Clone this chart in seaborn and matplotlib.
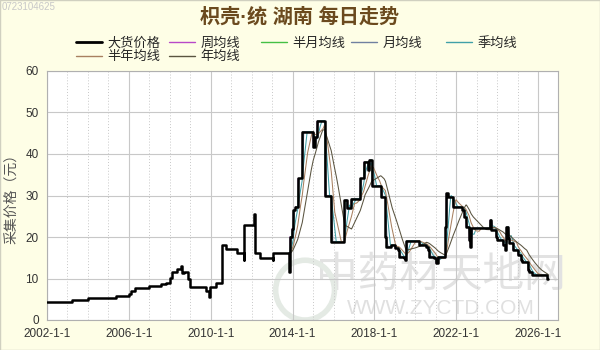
import numpy as np
import pandas as pd
import matplotlib
matplotlib.use("Agg")
import matplotlib.pyplot as plt
import matplotlib.dates as mdates
from matplotlib.lines import Line2D
from matplotlib.patches import Rectangle, Ellipse
import seaborn as sns

# ---------------- data ----------------
dates = [
    "2002-01-01", "2003-03-25", "2004-01-01", "2005-05-15", "2006-01-01", "2006-02-15",
    "2006-04-15", "2007-01-01", "2007-08-01", "2007-11-01", "2008-01-01", "2008-02-15",
    "2008-05-01", "2008-07-20", "2008-08-01", "2008-09-15", "2008-11-15", "2009-01-01",
    "2009-10-10", "2009-12-01", "2009-12-20", "2010-04-01", "2010-07-25", "2010-10-01",
    "2011-04-10", "2011-08-20", "2011-08-25", "2012-02-20", "2012-02-25", "2012-05-25",
    "2013-01-10", "2013-01-20", "2013-11-05", "2013-11-10", "2013-12-15", "2014-01-10",
    "2014-02-15", "2014-04-01", "2014-06-20", "2015-01-01", "2015-02-01", "2015-03-10",
    "2015-07-25", "2015-11-20", "2016-07-15", "2016-08-20", "2016-11-10", "2017-04-20",
    "2017-06-20", "2017-09-01", "2017-10-01", "2017-11-10", "2018-04-30", "2018-07-15",
    "2018-08-01", "2018-10-20", "2018-12-25", "2019-02-20", "2019-03-20", "2019-06-20",
    "2019-07-05", "2019-07-20", "2020-03-10", "2020-07-05", "2020-08-05", "2020-09-05",
    "2020-12-05", "2020-12-25", "2021-02-01", "2021-05-01", "2021-06-20", "2021-07-01",
    "2021-08-01", "2021-10-25", "2022-04-20", "2022-05-20", "2022-06-20", "2022-08-15",
    "2022-09-01", "2022-09-20", "2023-08-10", "2023-08-20", "2023-09-20", "2023-12-05",
    "2024-01-05", "2024-04-05", "2024-05-25", "2024-06-10", "2024-07-15", "2024-08-05",
    "2024-10-01", "2024-12-28", "2025-02-25", "2025-03-25", "2025-06-25", "2025-07-25",
    "2025-09-20", "2025-10-20", "2026-06-15", "2026-07-01",
]
prices = [
    4.4, 4.8, 5.3, 5.9, 6.3, 7.0,
    7.8, 8.2, 8.6, 9.0, 10.2, 11.6,
    12.4, 13.1, 11.3, 11.6, 10.0, 8.0,
    7.0, 5.6, 8.0, 9.0, 18.1, 17.0,
    16.1, 14.5, 22.9, 25.5, 16.1, 14.9,
    14.5, 16.2, 11.6, 20.1, 22.0, 26.5,
    27.3, 34.1, 45.4, 41.8, 44.0, 48.0,
    30.0, 18.9, 28.9, 26.9, 29.2, 34.1,
    38.1, 36.1, 38.6, 32.3, 29.7, 20.1,
    17.7, 18.1, 17.3, 16.9, 15.3, 14.9,
    14.5, 19.1, 18.1, 17.7, 16.9, 15.3,
    14.9, 13.7, 15.3, 15.3, 22.5, 30.5,
    29.7, 27.3, 26.5, 24.9, 22.5, 19.3,
    17.7, 22.1, 22.1, 24.1, 21.7, 20.1,
    19.3, 18.1, 16.9, 22.5, 19.7, 18.5,
    16.9, 15.7, 14.5, 14.0, 12.0, 11.6,
    10.8, 10.8, 9.8, 9.8,
]

ma_labels = ["周均线", "半月均线", "月均线", "季均线", "半年均线", "年均线"]
ma_days = [7, 15, 30, 90, 180, 365]
ma_colors = ["#B848C8", "#44C044", "#7080A0", "#40A0A8", "#A88060", "#5A5440"]
ma_start = "2013-11-01"

x_ticks = ["2002-01-01", "2006-01-01", "2010-01-01", "2014-01-01",
           "2018-01-01", "2022-01-01", "2026-01-01"]
x_tick_labels = ["2002-1-1", "2006-1-1", "2010-1-1", "2014-1-1",
                 "2018-1-1", "2022-1-1", "2026-1-1"]
y_ticks = [0, 10, 20, 30, 40, 50, 60]

# ---------------- figure ----------------
sns.set_theme(style="white")
plt.rcParams["font.family"] = ["Liberation Sans", "Noto Sans CJK SC", "DejaVu Sans"]

bg = "#FEFEE6"
fig = plt.figure(figsize=(6, 3.5), dpi=100, facecolor=bg)
ax = fig.add_axes([47 / 600, 1 - 320 / 350, (558 - 47) / 600, (320 - 71) / 350])
ax.set_facecolor("white")

df = pd.DataFrame({"date": pd.to_datetime(dates), "price": prices})
daily = df.set_index("date")["price"].resample("D").ffill()

# watermarks (behind data)
ax.text(0.77, 0.18, "中药材天地网", transform=ax.transAxes, ha="center", va="center",
        fontsize=30, color="#E2E2E2", family=["Noto Sans CJK SC"], zorder=0.5)
ax.text(0.77, 0.048, "WWW.ZYCTD.COM", transform=ax.transAxes, ha="center", va="center",
        fontsize=15, color="#E0E0E0", zorder=0.5)
ax.add_patch(Ellipse((0.505, 0.12), 0.115, 0.24, transform=ax.transAxes, fill=False,
                     edgecolor="#E4EAE4", lw=4, zorder=0.5))
fig.text(2 / 600, 1 - 7 / 350, "0723104625", fontsize=7, color="#C8C8C8",
         ha="left", va="center")

# moving averages (derived from the price series)
for lab, w, c in zip(ma_labels, ma_days, ma_colors):
    ma = daily.rolling(w, min_periods=1).mean()
    ma = ma[ma.index >= ma_start]
    sns.lineplot(x=ma.index, y=ma.values, ax=ax, color=c, lw=0.75, zorder=2)

sns.lineplot(data=df, x="date", y="price", ax=ax, color="black", lw=1.8,
             drawstyle="steps-post", zorder=3)

# axes formatting
ax.set_xlim(pd.Timestamp("2002-01-01"), pd.Timestamp("2026-12-20"))
ax.set_ylim(0, 60)
ax.set_yticks(y_ticks)
ax.set_xticks(pd.to_datetime(x_ticks))
ax.set_xticklabels(x_tick_labels)
ax.xaxis.set_minor_locator(mdates.YearLocator(1))
ax.grid(True, which="major", axis="both", color="#C8C8C8", lw=0.8, ls="-")
ax.grid(True, which="minor", axis="x", color="#C8C8C8", lw=0.7, ls=(0, (1, 2)))
ax.set_axisbelow(True)
for s in ax.spines.values():
    s.set_color("#B0B0B0")
    s.set_linewidth(0.8)
ax.tick_params(axis="both", which="major", labelsize=8.5, labelcolor="#333333",
               color="#A0A0A0", length=4, width=0.6, direction="out", pad=2)
ax.tick_params(axis="x", which="minor", length=0)
ax.set_xlabel("")
ax.set_ylabel("采集价格（元）", fontsize=10, color="#555555",
              family=["Noto Sans CJK SC", "DejaVu Sans"], labelpad=5)

# title
fig.text(0.5, 1 - 17 / 350, "枳壳·统 湖南 每日走势", ha="center", va="center",
         fontsize=14.5, fontweight="bold", color="#6B4A1E",
         family=["Liberation Sans", "Noto Sans CJK SC", "DejaVu Sans"])

# legend: five columns, row-wise order as in reference
entries = [("大货价格", "black", 2.0)] + [(l, c, 1.0) for l, c in zip(ma_labels, ma_colors)]
rows = [entries[:5], entries[5:]]
col_x = [76, 169, 261, 351, 446]
for ci, x in enumerate(col_x):
    handles = []
    for r in rows:
        if ci < len(r):
            lab, c, lw = r[ci]
            handles.append(Line2D([], [], color=c, lw=lw, label=lab))
    fig.legend(handles=handles, loc="upper left",
               bbox_to_anchor=(x / 600, 1 - 37 / 350), frameon=False,
               handlelength=1.95, handletextpad=0.45,
               labelspacing=0.02, borderaxespad=0, borderpad=0,
               prop={"family": ["Noto Sans CJK SC", "DejaVu Sans"], "size": 9.5})

fig.add_artist(Rectangle((0, 0), 1, 1, transform=fig.transFigure, fill=False,
                         edgecolor="#D0D0C0", lw=1))

fig.savefig("out.png", dpi=100, facecolor=bg)
